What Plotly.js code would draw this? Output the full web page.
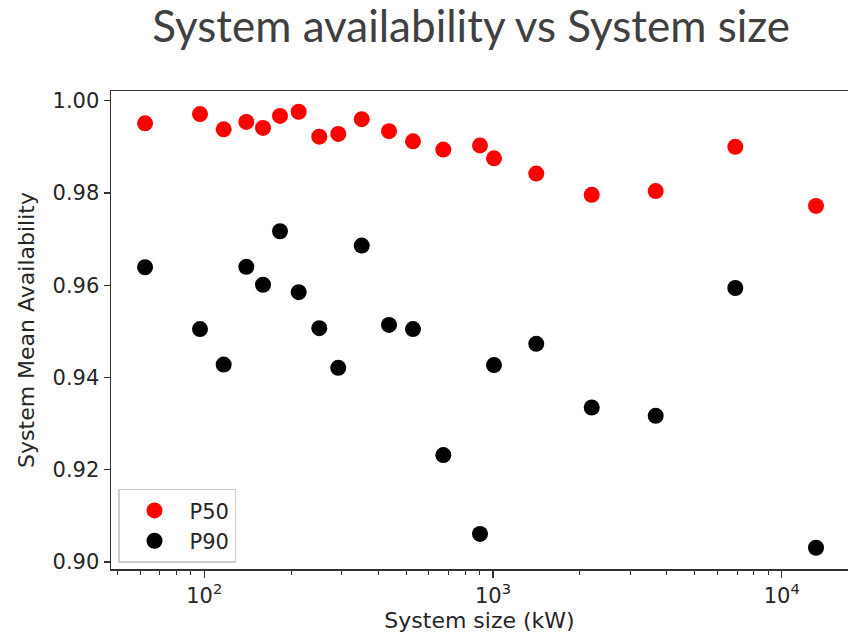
<!DOCTYPE html>
<html>
<head>
<meta charset="utf-8">
<script src="https://cdn.plot.ly/plotly-3.0.1.min.js"></script>
<style>html,body{margin:0;padding:0;overflow:hidden;background:#fff}</style>
</head>
<body>
<div id="chart" style="width:848px;height:638px"></div>
<script>
const systemSize = [62.4, 96.7, 116.8, 139.9, 159.8, 183, 212.4, 250.3, 291.2, 351.1, 436.4, 528.4, 672.9, 901.5, 1008, 1412, 2197, 3659, 6902, 13135];
const p50 = [0.9951, 0.9971, 0.9938, 0.9954, 0.9941, 0.9967, 0.9976, 0.9922, 0.9928, 0.9960, 0.9934, 0.9912, 0.9894, 0.9903, 0.9875, 0.9842, 0.9796, 0.9804, 0.9900, 0.9772];
const p90 = [0.9639, 0.9505, 0.9428, 0.9640, 0.9601, 0.9717, 0.9585, 0.9507, 0.9421, 0.9686, 0.9514, 0.9505, 0.9232, 0.9061, 0.9427, 0.9473, 0.9335, 0.9317, 0.9594, 0.9031];
const seriesNames = ["P50", "P90"];
const xTickVals = [100, 1000, 10000];
const xTickText = ["10<sup>2</sup>", "10<sup>3</sup>", "10<sup>4</sup>"];
const yTickVals = [0.90, 0.92, 0.94, 0.96, 0.98, 1.00];
const yTickText = ["0.90", "0.92", "0.94", "0.96", "0.98", "1.00"];

const minorVals = [];
[10, 100, 1000, 10000].forEach(d => { for (let k = 2; k <= 9; k++) minorVals.push(d * k); });

const tickFont = {family: "DejaVu Sans", size: 21, color: "#262626"};

const traces = [
  {x: systemSize, y: p50, name: seriesNames[0], type: "scatter", mode: "markers",
   marker: {color: "#ff0000", size: 16}},
  {x: systemSize, y: p90, name: seriesNames[1], type: "scatter", mode: "markers",
   marker: {color: "#000000", size: 16}}
];

const layout = {
  width: 848, height: 638,
  margin: {l: 111, r: 0, t: 91, b: 69},
  paper_bgcolor: "#ffffff", plot_bgcolor: "#ffffff",
  title: {text: "System availability vs System size", font: {family: "Lato", size: 44, color: "#404040"},
          xref: "container", x: 0.5556, xanchor: "center", yref: "container", y: 0.958, yanchor: "middle"},
  xaxis: {type: "log", range: [1.6773, 4.2292], showgrid: false, zeroline: false,
          showline: true, mirror: true, linecolor: "#333333", linewidth: 1.5,
          ticks: "outside", ticklen: 7, tickwidth: 1.3, tickcolor: "#333333",
          tickvals: xTickVals, ticktext: xTickText, tickfont: tickFont,
          minor: {tickvals: minorVals, ticks: "outside", ticklen: 4, tickwidth: 1, tickcolor: "#333333", showgrid: false},
          title: {text: "System size (kW)", font: {family: "DejaVu Sans", size: 22, color: "#262626"}, standoff: 6}},
  yaxis: {range: [0.8985, 1.0021], showgrid: false, zeroline: false,
          showline: true, mirror: false, linecolor: "#333333", linewidth: 1.5,
          ticks: "outside", ticklen: 6, tickwidth: 1.3, tickcolor: "#333333",
          tickvals: yTickVals, ticktext: yTickText, tickfont: tickFont,
          title: {text: "System Mean Availability", font: {family: "DejaVu Sans", size: 22, color: "#262626"}, standoff: 12}},
  showlegend: true,
  legend: {x: 0.0095, y: 0.013, xanchor: "left", yanchor: "bottom", bgcolor: "#ffffff",
           bordercolor: "#cccccc", borderwidth: 1.5, font: {family: "DejaVu Sans", size: 21, color: "#262626"},
           itemwidth: 60}
};

Plotly.newPlot("chart", traces, layout, {displayModeBar: false, staticPlot: true});
</script>
</body>
</html>
